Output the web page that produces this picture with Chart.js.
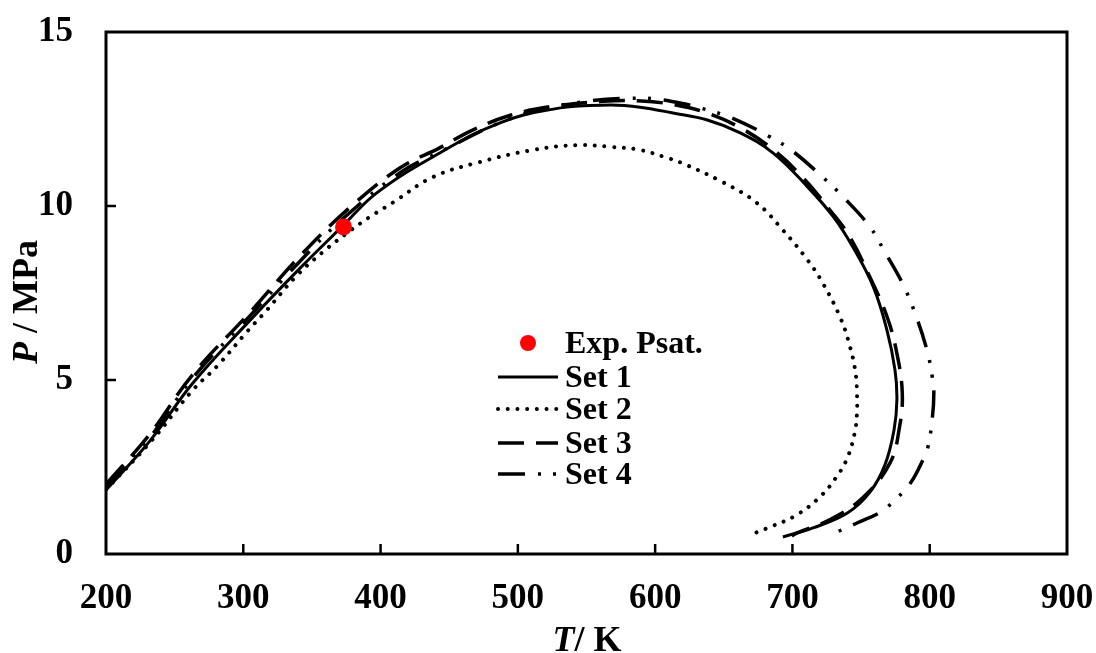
<!DOCTYPE html>
<html><head><meta charset="utf-8">
<script src="https://cdn.jsdelivr.net/npm/chart.js@4/dist/chart.umd.min.js"></script>
<style>html,body{margin:0;padding:0;background:#fff}#wrap{width:1096px;height:653px;position:relative}</style>
</head><body><div id="wrap"><canvas id="c"></canvas></div>
<script>
const xTicks=[200,300,400,500,600,700,800,900];
const yTicks=[0,5,10,15];
const expT=[373];
const expP=[9.4];
const set1T=[200,232,263,305,341,373,397,438,487,531,567,589,613,638,662,686,711,730,744,759,768.8,774.7,776.1,774,767.4,756.5,740,715,693];
const set1P=[1.84,3.25,4.9,6.72,8.2,9.45,10.37,11.41,12.39,12.82,12.9,12.84,12.67,12.47,12.1,11.52,10.55,9.68,8.82,7.67,6.44,5.29,4.43,3.56,2.56,1.78,1.18,0.75,0.49];
const set2T=[200,232,263,281,303,317,338,358,375.5,392,409,438,472,511,543,567,589,609,618,649,674,693,711,722,735,742,746,747,747,745.5,740,732,720,703,684,670.5];
const set2P=[1.85,3.2,4.7,5.4,6.4,7.0,7.96,8.68,9.22,9.68,10.1,10.83,11.26,11.61,11.75,11.7,11.61,11.38,11.26,10.69,10.09,9.31,8.45,7.79,6.78,5.95,5.2,4.63,4.05,3.51,2.76,2.21,1.64,1.12,0.78,0.57];
const set3T=[200,232,263,305,341,378,414,443,467,494,523,560,590,615,638,662,686,708,727,742,756.5,769,776,780,778,771,751,727,703,699.6];
const set3P=[2.0,3.45,5.15,6.95,8.55,9.97,11.09,11.67,12.18,12.6,12.85,13.0,13.02,12.9,12.67,12.25,11.62,10.8,9.9,9.1,7.95,6.81,5.78,4.63,3.65,2.61,1.61,0.98,0.6,0.52];
const set4T=[200,232,263,305,341,373,414,443,494,540,590,618,638,656,684,700,722,737,756.5,767,780,789,798,802,803,802,798.7,795,786,772.5,764,747,729];
const set4P=[1.95,3.35,5.05,6.85,8.4,9.65,10.95,11.55,12.5,12.95,13.1,12.96,12.76,12.53,11.98,11.58,10.83,10.26,9.4,8.7,7.79,6.95,5.86,5.06,4.63,3.94,3.07,2.7,2.04,1.47,1.2,0.89,0.57];

function pairs(T,P){return T.map((t,i)=>({x:t,y:P[i]}));}
const FONT='"Liberation Serif","Times New Roman",serif';

const lineDs=(label,T,P,extra)=>Object.assign({label,data:pairs(T,P),showLine:true,pointRadius:0,borderColor:'#000',backgroundColor:'#000',tension:0.4,fill:false},extra);

const datasets=[
  {label:'Exp. Psat.',data:pairs(expT,expP),showLine:false,pointRadius:8.5,pointBackgroundColor:'#ff0000',pointBorderWidth:0,backgroundColor:'#ff0000',borderColor:'#ff0000',order:-1},
  lineDs('Set 1',set1T,set1P,{borderWidth:3,borderDash:[]}),
  lineDs('Set 2',set2T,set2P,{borderWidth:4,borderDash:[0.01,9.7],borderCapStyle:'round'}),
  lineDs('Set 3',set3T,set3P,{borderWidth:3.5,borderDash:[26,12]}),
  lineDs('Set 4',set4T,set4P,{borderWidth:3.5,borderDash:[27,13,3,12,3,13]})
];

const framePlugin={id:'frame',afterDatasetsDraw(chart){
  const {ctx,chartArea:a,scales}=chart;ctx.save();
  ctx.strokeStyle='#000';ctx.lineWidth=2.5;ctx.setLineDash([]);
  ctx.beginPath();
  xTicks.forEach(v=>{if(v===xTicks[0]||v===xTicks[xTicks.length-1])return;const p=scales.x.getPixelForValue(v);ctx.moveTo(p,a.bottom);ctx.lineTo(p,a.bottom-10);});
  yTicks.forEach(v=>{if(v===yTicks[0]||v===yTicks[yTicks.length-1])return;const p=scales.y.getPixelForValue(v);ctx.moveTo(a.left,p);ctx.lineTo(a.left+10,p);});
  ctx.stroke();
  ctx.lineWidth=3;ctx.strokeRect(a.left,a.top,a.right-a.left,a.bottom-a.top);
  ctx.restore();
}};

const titlePlugin={id:'titles',afterDraw(chart){
  const ctx=chart.ctx;ctx.save();ctx.fillStyle='#000';ctx.textBaseline='alphabetic';
  const fi='italic bold 36px '+FONT, fb='bold 36px '+FONT;
  ctx.font=fi;const wT=ctx.measureText('T').width;ctx.font=fb;const wR=ctx.measureText('/ K').width;
  let x0=587-(wT+wR)/2;ctx.font=fi;ctx.fillText('T',x0,651);ctx.font=fb;ctx.fillText('/ K',x0+wT,651);
  ctx.translate(37,302);ctx.rotate(-Math.PI/2);
  ctx.font=fi;const wP=ctx.measureText('P').width;ctx.font=fb;const wM=ctx.measureText(' / MPa').width;
  let y0=-(wP+wM)/2;ctx.font=fi;ctx.fillText('P',y0,0);ctx.font=fb;ctx.fillText(' / MPa',y0+wP,0);
  ctx.restore();
}};

const legendPlugin={id:'customLegend',afterDraw(chart){
  const ctx=chart.ctx;ctx.save();
  const rows=[343,377,409,443,474];
  chart.data.datasets.forEach((ds,i)=>{
    const y=rows[i];
    if(ds.showLine===false){ctx.beginPath();ctx.arc(528,y,8,0,Math.PI*2);ctx.fillStyle=ds.pointBackgroundColor;ctx.fill();}
    else{ctx.beginPath();ctx.setLineDash(ds.borderDash||[]);ctx.lineWidth=ds.borderWidth;ctx.lineCap=ds.borderCapStyle||'butt';ctx.strokeStyle=ds.borderColor;ctx.moveTo(498,y);ctx.lineTo(558,y);ctx.stroke();ctx.setLineDash([]);}
    ctx.fillStyle='#000';ctx.font='bold 32px '+FONT;ctx.textBaseline='alphabetic';ctx.fillText(ds.label,565,y+10);
  });
  ctx.restore();
}};

const zeroPad=s=>{s.paddingTop=0;s.paddingBottom=0;s.paddingLeft=0;s.paddingRight=0;};

new Chart(document.getElementById('c'),{
  type:'scatter',
  data:{datasets},
  options:{
    responsive:true,maintainAspectRatio:false,animation:false,devicePixelRatio:1,
    layout:{padding:{top:32,right:29,left:0,bottom:0}},
    plugins:{legend:{display:false},tooltip:{enabled:false}},
    scales:{
      x:{type:'linear',min:200,max:900,
        afterBuildTicks:s=>{s.ticks=xTicks.map(v=>({value:v}));},
        afterFit:s=>{s.height=99;zeroPad(s);},
        grid:{display:false,drawTicks:false},border:{display:false},
        ticks:{padding:24,color:'#000',font:{family:FONT,size:35,weight:'bold'}}},
      y:{type:'linear',min:0,max:15,
        afterBuildTicks:s=>{s.ticks=yTicks.map(v=>({value:v}));},
        afterFit:s=>{s.width=106;zeroPad(s);},
        grid:{display:false,drawTicks:false},border:{display:false},
        ticks:{padding:33,color:'#000',font:{family:FONT,size:35,weight:'bold'}}}
    }
  },
  plugins:[framePlugin,titlePlugin,legendPlugin]
});
</script></body></html>
